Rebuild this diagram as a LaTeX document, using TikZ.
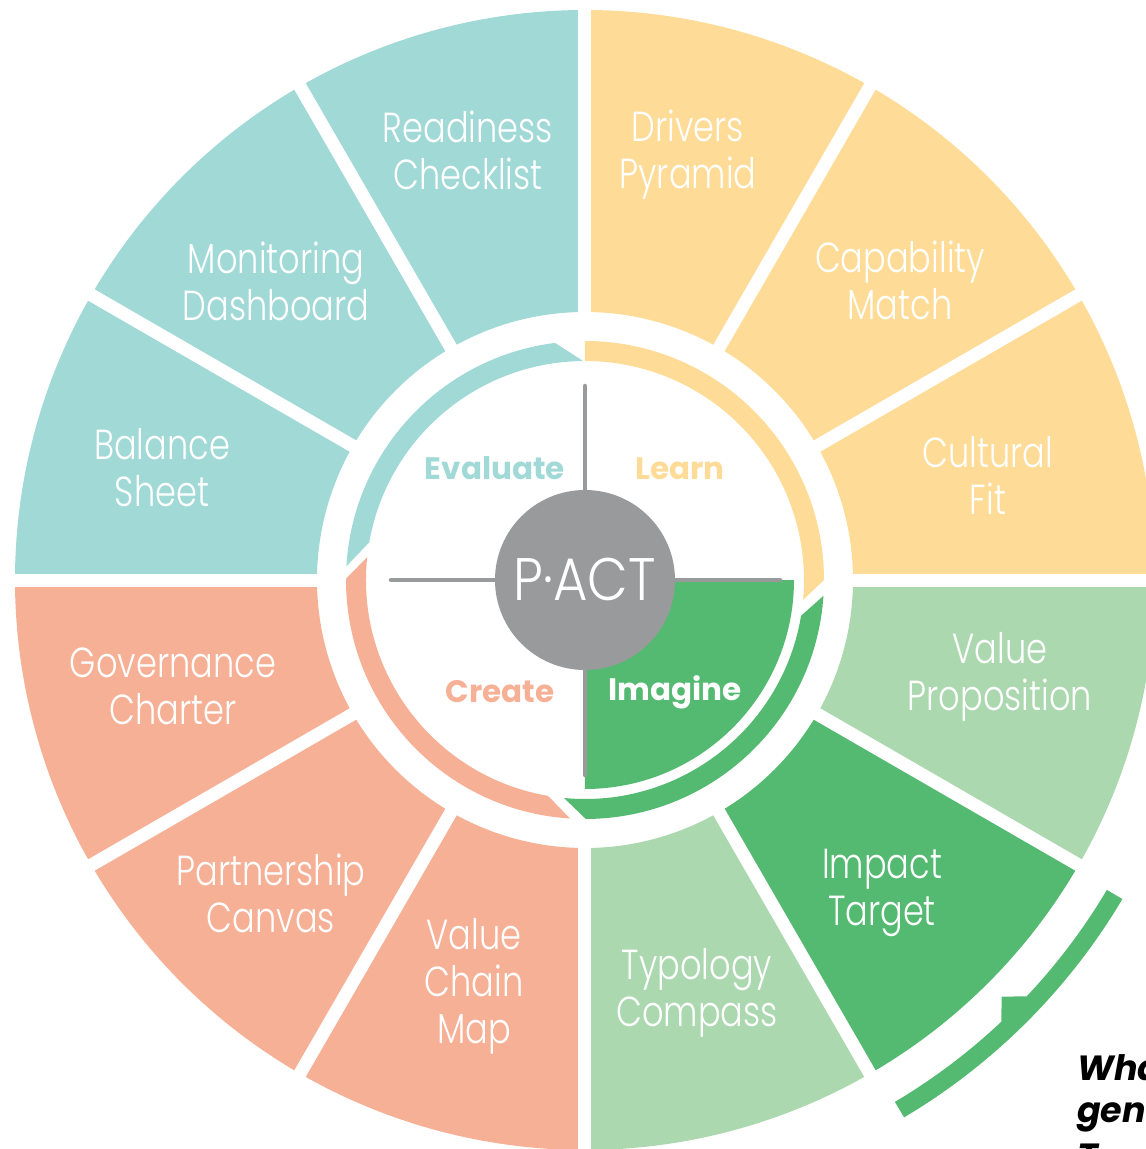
\documentclass[tikz,border=0pt]{standalone}
\usepackage{fontspec}
\usepackage{xcolor}
\newfontfamily\labelfont{Poppins Light}
\newfontfamily\phasefont{Poppins}
\definecolor{tealseg}{HTML}{A1D9D7}
\definecolor{sandseg}{HTML}{FEDB96}
\definecolor{mintseg}{HTML}{ACD8B0}
\definecolor{leafseg}{HTML}{55BA71}
\definecolor{coralseg}{HTML}{F6B096}
\definecolor{hubgray}{HTML}{999A9C}
\newcommand{\ringin}{219}
\newcommand{\ringout}{239}
% colour, inner start/end, outer start/end, inner radius, outer radius
\newcommand{\bandarc}[7]{%
  \fill[#1] (#2:#6) arc[start angle=#2,end angle=#3,radius=#6]
    -- (#5:#7) arc[start angle=#5,end angle=#4,radius=#7] -- cycle;}

\begin{document}
\begin{tikzpicture}[x=1pt,y=1pt]
                \useasboundingbox (-585,-569) rectangle (561,580);
                \clip (-585,-569) rectangle (561,580);

                % outer wheel
                \foreach \a/\c in {0/sandseg,30/sandseg,60/sandseg,90/tealseg,120/tealseg,150/tealseg,
                    180/coralseg,210/coralseg,240/coralseg,270/mintseg,300/leafseg,330/mintseg}
                    \bandarc{\c}{\a}{\a+30}{\a}{\a+30}{268}{570};
                \foreach \a in {0,30,...,330}
                    \draw[white,line width=13pt] (\a:262) -- (\a:600);

                % phase ring
                \bandarc{sandseg}{90}{-5.2}{90}{0}{\ringin}{\ringout}
                \bandarc{tealseg}{90.5}{170.1}{97.2}{176.7}{\ringin}{\ringout}
                \bandarc{coralseg}{174}{260.3}{179.7}{266.4}{\ringin}{\ringout}
                \bandarc{leafseg}{264.5}{350.6}{270.2}{356.2}{\ringin}{\ringout}

                % marker arc outside the wheel
                \fill[leafseg] (-30.7:625) arc[start angle=-30.7,end angle=-59.3,radius=625]
                    -- (-59.3:607) arc[start angle=-59.3,end angle=-46.7,radius=607]
                    -- (416.7,-416.7) -- (-43.3:607)
                    arc[start angle=-43.3,end angle=-30.7,radius=607] -- cycle;

                % active quadrant and cross
                \fill[leafseg] (0,0) -- (0:209) arc[start angle=0,end angle=-90,radius=209] -- cycle;
                \coordinate (crossN) at (0,194);
                \coordinate (crossS) at (0,-195);
                \coordinate (crossW) at (-194,0);
                \coordinate (crossE) at (195,0);
                \begin{scope}[hubgray,line width=4.5pt,line cap=round]
                    \draw (crossW) -- (crossE);
                    \draw (crossN) -- (crossS);
                \end{scope}
                \fill[hubgray] (0,0) circle[radius=90];
                \node[text=white,xscale=0.88,
                    font=\labelfont\fontsize{60}{60}\selectfont] (hub) at (0,1) {P·ACT};

                \begin{scope}[every node/.style={text=white,align=center,xscale=0.8,
                    font=\labelfont\fontsize{42}{47}\selectfont}]
                    \node (readiness) at (-117,430) {Readiness\\Checklist};
                    \node (monitoring) at (-309,299) {Monitoring\\Dashboard};
                    \node (balance) at (-423,112) {Balance\\Sheet};
                    \node (governance) at (-412,-106) {Governance\\Charter};
                    \node (partnership) at (-314,-313) {Partnership\\Canvas};
                    \node (valuechain) at (-111,-406) {Value\\Chain\\Map};
                    \node (typology) at (112,-413) {Typology\\Compass};
                    \node (impact) at (297,-313) {Impact\\Target};
                    \node (proposition) at (415,-97) {Value\\Proposition};
                    \node (cultural) at (403,105) {Cultural\\Fit};
                    \node (capability) at (315,300) {Capability\\Match};
                    \node (drivers) at (103,425) {Drivers\\Pyramid};
                \end{scope}

                \begin{scope}[every node/.style={font=\phasefont\bfseries\fontsize{31}{31}\selectfont}]
                    \node[text=tealseg] (evaluate) at (-90,112) {Evaluate};
                    \node[text=sandseg] (learn) at (95,111) {Learn};
                    \node[text=coralseg] (create) at (-85,-112) {Create};
                    \node[text=white] (imagine) at (90,-112) {Imagine};
                \end{scope}

                \begin{scope}[every node/.style={anchor=base west,inner sep=0pt,
                    font=\phasefont\bfseries\itshape\fontsize{35}{42}\selectfont}]
                    \node (what) at (492,-500) {Wha};
                    \node (gen) at (492,-542) {gen};
                    \node (nextline) at (492,-588) {T};
                \end{scope}
\end{tikzpicture}
\end{document}
